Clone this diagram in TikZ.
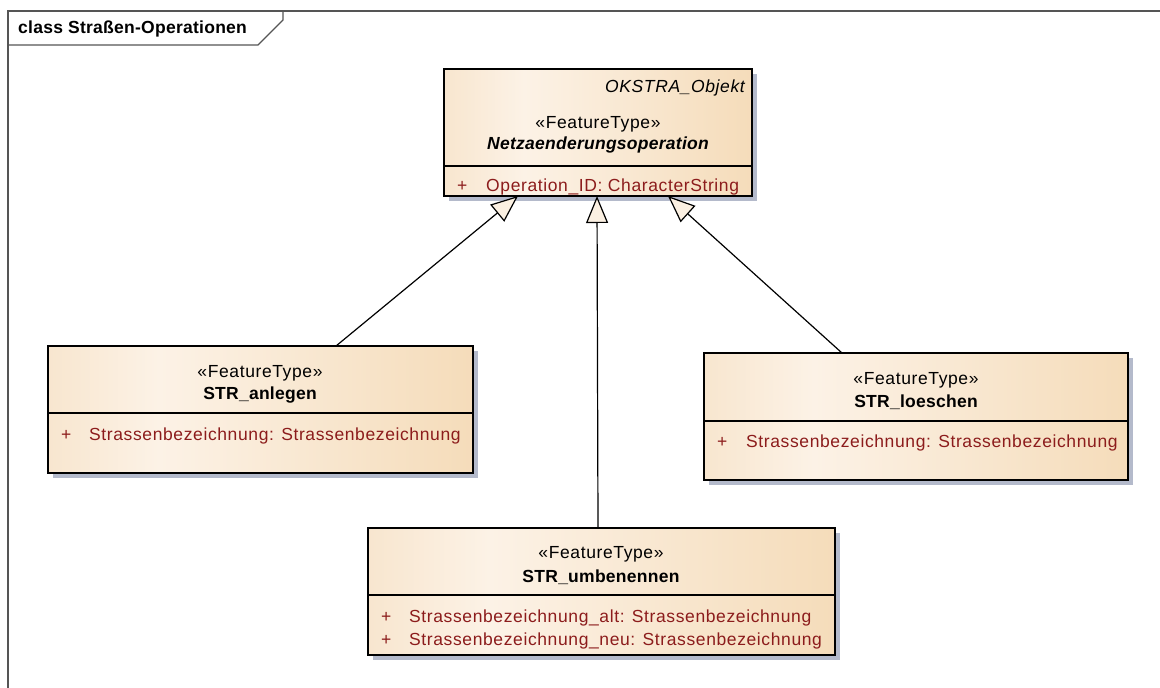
\documentclass[tikz,border=0pt]{standalone}
\usepackage{fontspec}
\setmainfont{Liberation Sans}
\newfontfamily\umlfont[LetterSpace=3.5]{Liberation Sans}
\newfontfamily\umlbfont[LetterSpace=1.5]{Liberation Sans}
\usetikzlibrary{arrows.meta,shadows,calc}
\definecolor{creamE}{HTML}{F8E6CF}
\definecolor{creamL}{HTML}{FCF2E6}
\definecolor{creamR}{HTML}{F5DCBA}
\definecolor{headfill}{HTML}{FBF0E2}
\definecolor{shadowc}{HTML}{B4BACB}
\definecolor{attrc}{HTML}{8C1C1C}
\definecolor{framec}{HTML}{555555}
\pgfdeclarehorizontalshading{umlshade}{100bp}{color(0bp)=(creamE); color(25bp)=(creamE); color(38bp)=(creamL); color(75bp)=(creamR); color(100bp)=(creamR)}
\tikzset{
  umlbox/.style={draw=black, line width=1.3pt, rectangle, inner sep=0pt, outer sep=0pt,
    anchor=north west, shading=umlshade,
    drop shadow={shadow xshift=5pt, shadow yshift=-5pt, fill=shadowc, opacity=1}},
  sepline/.style={draw=black, line width=1.3pt},
  stereo/.style={inner sep=0pt, anchor=base, font=\umlfont\fontsize{17.5}{20}\selectfont},
  cname/.style={inner sep=0pt, anchor=base, font=\umlbfont\bfseries\fontsize{17.5}{20}\selectfont},
  attr/.style={inner sep=0pt, anchor=base west, text=attrc, font=\umlfont\fontsize{17.5}{20}\selectfont},
  gen/.style={line width=1.2pt, -{Triangle[length=27pt,width=22pt,fill=headfill]}},
}
\begin{document}
\begin{tikzpicture}[x=1pt,y=-1pt]
\useasboundingbox (0,0) rectangle (1160,688);
% frame
\draw[framec, line width=1.2pt] (8,688) -- (8,11) -- (1160,11);
\draw[framec, line width=1.2pt] (8,45) -- (258,45) -- (283,20) -- (283,11);
\node[inner sep=0pt, anchor=base west, font=\umlbfont\bfseries\fontsize{17.5}{20}\selectfont] (title) at (18,33) {class Straßen-Operationen};

% top class
\node[umlbox, minimum width=308pt, minimum height=127pt] (top) at (444,69) {};
\draw[sepline] (444,166) -- (752,166);
\node[inner sep=0pt, anchor=base east, font=\umlfont\itshape\fontsize{17.5}{20}\selectfont] (topabs) at (745,92) {OKSTRA\_Objekt};
\node[stereo] (topst) at (598,128) {«FeatureType»};
\node[cname, font=\umlbfont\bfseries\itshape\fontsize{17.5}{20}\selectfont] (topname) at (598,149) {Netzaenderungsoperation};
\node[attr] (topp) at (457,191) {+};
\node[attr] (topa) at (486,191) {Operation\_ID: CharacterString};

% STR_anlegen
\node[umlbox, minimum width=425pt, minimum height=127pt] (anl) at (48,346) {};
\draw[sepline] (48,413) -- (473,413);
\node[stereo] (anlst) at (260,377) {«FeatureType»};
\node[cname] (anlname) at (260,399) {STR\_anlegen};
\node[attr] (anlp) at (61,440) {+};
\node[attr] (anla) at (89,440) {Strassenbezeichnung: Strassenbezeichnung};

% STR_loeschen
\node[umlbox, minimum width=424pt, minimum height=127pt] (loe) at (704,353) {};
\draw[sepline] (704,421) -- (1128,421);
\node[stereo] (loest) at (916,384) {«FeatureType»};
\node[cname] (loename) at (916,407) {STR\_loeschen};
\node[attr] (loep) at (717,447) {+};
\node[attr] (loea) at (746,447) {Strassenbezeichnung: Strassenbezeichnung};

% STR_umbenennen
\node[umlbox, minimum width=467pt, minimum height=127pt] (umb) at (368,528) {};
\draw[sepline] (368,595) -- (835,595);
\node[stereo] (umbst) at (601,558) {«FeatureType»};
\node[cname] (umbname) at (601,582) {STR\_umbenennen};
\node[attr] (umbp1) at (381,622) {+};
\node[attr] (umba1) at (409,622) {Strassenbezeichnung\_alt: Strassenbezeichnung};
\node[attr] (umbp2) at (381,645) {+};
\node[attr] (umba2) at (409,645) {Strassenbezeichnung\_neu: Strassenbezeichnung};

% generalizations
\draw[gen] ([xshift=288pt]anl.north west) -- ([xshift=74pt]top.south west);
\draw[gen] ([xshift=230pt]umb.north west) -- ([xshift=153pt]top.south west);
\draw[gen] ([xshift=138pt]loe.north west) -- ([xshift=224pt]top.south west);
\end{tikzpicture}
\end{document}
